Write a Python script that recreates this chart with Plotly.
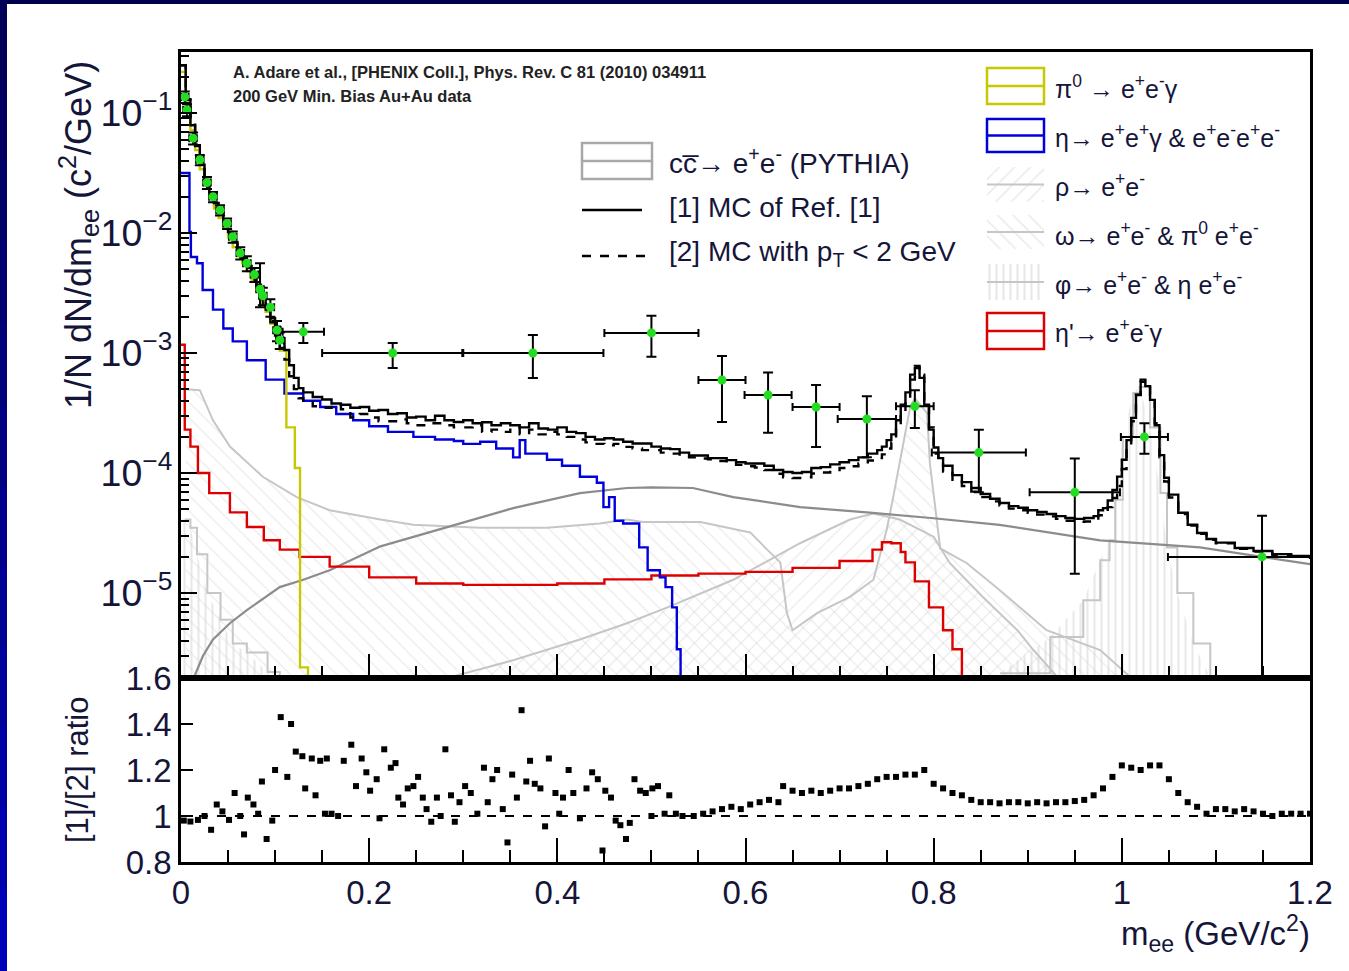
import plotly.graph_objects as go

# ---------------- data ----------------
M_TOT = [0.000, 0.005, 0.010, 0.015, 0.020, 0.025, 0.030, 0.035, 0.040, 0.045,
         0.050, 0.055, 0.060, 0.065, 0.070, 0.075, 0.080, 0.085, 0.090, 0.095,
         0.100, 0.105, 0.110, 0.115, 0.120, 0.125, 0.130, 0.140, 0.150, 0.160,
         0.170, 0.180, 0.190, 0.200, 0.210, 0.220, 0.230, 0.240, 0.250, 0.260,
         0.270, 0.280, 0.290, 0.300, 0.310, 0.320, 0.330, 0.340, 0.350, 0.360,
         0.370, 0.380, 0.390, 0.400, 0.410, 0.420, 0.430, 0.440, 0.450, 0.460,
         0.470, 0.480, 0.490, 0.500, 0.510, 0.520, 0.530, 0.540, 0.550, 0.560,
         0.570, 0.580, 0.590, 0.600, 0.610, 0.620, 0.630, 0.640, 0.650, 0.660,
         0.670, 0.680, 0.690, 0.700, 0.710, 0.720, 0.730, 0.740, 0.745, 0.750,
         0.755, 0.760, 0.765, 0.770, 0.775, 0.780, 0.785, 0.790, 0.795, 0.800,
         0.805, 0.810, 0.820, 0.830, 0.840, 0.850, 0.860, 0.870, 0.880, 0.890,
         0.900, 0.910, 0.920, 0.930, 0.940, 0.950, 0.960, 0.970, 0.975, 0.980,
         0.985, 0.990, 0.995, 1.000, 1.005, 1.010, 1.015, 1.020, 1.025, 1.030,
         1.035, 1.040, 1.045, 1.050, 1.060, 1.070, 1.080, 1.090, 1.100, 1.120,
         1.140, 1.160, 1.180, 1.200]

# [1] MC of Ref. [1]
TOT1 = [0.25, 0.128, 0.079, 0.054, 0.037, 0.0277, 0.0219, 0.0178, 0.0147, 0.0124,
        0.0102, 0.0084, 0.0071, 0.0062, 0.0053, 0.0045, 0.0037, 0.0030, 0.0025, 0.00195,
        0.00166, 0.00133, 0.00106, 0.00079, 0.00062, 0.00051, 0.00047, 0.00043, 0.00041, 0.00038,
        0.00037, 0.00035, 0.000355, 0.00033, 0.000335, 0.00031, 0.000315, 0.00029, 0.000295, 0.000275,
        0.0003, 0.000275, 0.000266, 0.000275, 0.00026, 0.000265, 0.00025, 0.00026, 0.00025, 0.00024,
        0.00026, 0.000235, 0.00023, 0.00024, 0.00022, 0.000215, 0.0002, 0.00019, 0.000195, 0.00019,
        0.000182, 0.000176, 0.000176, 0.000166, 0.00016, 0.000158, 0.000148, 0.00014, 0.00014, 0.000133,
        0.000133, 0.000128, 0.000123, 0.00012, 0.00012, 0.000115, 0.000106, 0.000102, 0.0001, 0.000102,
        0.00011, 0.000112, 0.000118, 0.000123, 0.000128, 0.000135, 0.000145, 0.000155, 0.000166, 0.000188,
        0.00021, 0.000275, 0.00037, 0.00047, 0.00066, 0.00075, 0.00062, 0.00037, 0.00023, 0.000163,
        0.000133, 0.000115, 0.000096, 0.000084, 0.000075, 0.0000668, 0.000061, 0.0000562, 0.000053, 0.0000513,
        0.000049, 0.0000473, 0.0000456, 0.0000437, 0.0000422, 0.0000415, 0.0000422, 0.0000437, 0.000049, 0.000051,
        0.000059, 0.0000724, 0.0000933, 0.000129, 0.000188, 0.000288, 0.000447, 0.000575, 0.00053, 0.000407,
        0.00025, 0.000141, 0.0000912, 0.000066, 0.0000467, 0.0000371, 0.0000316, 0.0000282, 0.0000263, 0.0000237,
        0.0000224, 0.0000211, 0.0000204, 0.0000195]

# [2] MC with pT < 2 GeV
TOT2 = [0.25, 0.13, 0.08, 0.053, 0.037, 0.028, 0.0215, 0.0176, 0.0146, 0.0122,
        0.0101, 0.0083, 0.0070, 0.0061, 0.0051, 0.0043, 0.0035, 0.0027, 0.0023, 0.0018,
        0.0014, 0.0011, 0.00088, 0.00064, 0.0005, 0.00042, 0.00039, 0.00036, 0.00035, 0.00037,
        0.00034, 0.00029, 0.00031, 0.00029, 0.00027, 0.00027, 0.00028, 0.00026, 0.00025, 0.00026,
        0.00026, 0.00025, 0.00024, 0.00024, 0.00025, 0.00022, 0.00023, 0.00022, 0.00024, 0.00021,
        0.00023, 0.00021, 0.00022, 0.00021, 0.0002, 0.00019, 0.00018, 0.000175, 0.00017, 0.000175,
        0.000165, 0.00016, 0.000155, 0.000155, 0.000148, 0.000145, 0.000138, 0.000135, 0.000132, 0.00013,
        0.000126, 0.000122, 0.000117, 0.000114, 0.000111, 0.000106, 0.0000985, 0.000092, 0.000091, 0.000092,
        0.000099, 0.000101, 0.000106, 0.00011, 0.000114, 0.00012, 0.000127, 0.000133, 0.000143, 0.00016,
        0.00018, 0.000235, 0.00032, 0.00042, 0.0006, 0.00078, 0.00066, 0.0004, 0.00024, 0.000145,
        0.000118, 0.000103, 0.000088, 0.000078, 0.00007, 0.000063, 0.000058, 0.0000535, 0.0000505, 0.000049,
        0.0000467, 0.000045, 0.0000435, 0.0000415, 0.00004, 0.0000392, 0.0000395, 0.0000405, 0.0000445, 0.000046,
        0.000052, 0.000062, 0.000078, 0.000108, 0.000165, 0.00027, 0.00045, 0.0006, 0.00058, 0.00045,
        0.00026, 0.000135, 0.000085, 0.0000625, 0.0000455, 0.0000365, 0.0000312, 0.0000278, 0.000026, 0.0000234,
        0.0000222, 0.0000207, 0.0000201, 0.0000192]

# pi0 -> e+e-gamma
M_PI0 = [0.000, 0.005, 0.010, 0.015, 0.020, 0.025, 0.030, 0.035, 0.040, 0.045,
         0.050, 0.055, 0.060, 0.065, 0.070, 0.075, 0.080, 0.085, 0.090, 0.095,
         0.100, 0.105, 0.112, 0.121, 0.1265, 0.135]
PI0 = [0.22, 0.115, 0.072, 0.049, 0.034, 0.025, 0.0198, 0.016, 0.0133, 0.0112,
       0.0092, 0.0076, 0.0064, 0.0056, 0.0048, 0.0040, 0.0033, 0.0026, 0.0022, 0.00175,
       0.00148, 0.00105, 0.00024, 0.00011, 0.0000024, 1e-9]

# eta -> e+e-gamma & e+e-e+e-
M_ETA = [0.000, 0.009, 0.0105, 0.017, 0.023, 0.034, 0.045, 0.055, 0.070, 0.090,
         0.110, 0.130, 0.148, 0.165, 0.183, 0.200, 0.220, 0.247, 0.270, 0.290,
         0.300, 0.318, 0.335, 0.353, 0.360, 0.366, 0.389, 0.405, 0.424, 0.442,
         0.449, 0.455, 0.461, 0.470, 0.480, 0.487, 0.496, 0.509, 0.515, 0.522,
         0.527, 0.531]
ETA = [0.0316, 0.0102, 0.0063, 0.0056, 0.00335, 0.0023, 0.0016, 0.00125, 0.00087, 0.0006,
       0.00046, 0.0004, 0.000355, 0.00031, 0.000275, 0.000245, 0.00022, 0.0002, 0.00019, 0.000185,
       0.000175, 0.000182, 0.00016, 0.000135, 0.000188, 0.000145, 0.000129, 0.000115, 0.000093, 0.000083,
       0.000052, 0.000063, 0.00004, 0.000038, 0.000038, 0.000024, 0.0000155, 0.0000135, 0.0000112, 0.0000076,
       0.0000034, 1e-9]

# eta' -> e+e-gamma
M_ETAP = [0.000, 0.004, 0.010, 0.018, 0.030, 0.052, 0.070, 0.088, 0.105, 0.126,
          0.158, 0.200, 0.250, 0.300, 0.350, 0.400, 0.450, 0.500, 0.550, 0.600,
          0.650, 0.700, 0.735, 0.745, 0.755, 0.765, 0.770, 0.780, 0.795, 0.810,
          0.820, 0.830, 0.835]
ETAP = [0.00117, 0.00023, 0.000166, 0.0001, 0.000068, 0.000047, 0.0000355, 0.0000275, 0.000023, 0.00002,
        0.0000166, 0.0000135, 0.000012, 0.0000117, 0.0000117, 0.000012, 0.000013, 0.000014, 0.0000145, 0.000015,
        0.0000162, 0.0000185, 0.000023, 0.0000265, 0.000026, 0.000022, 0.000018, 0.0000125, 0.0000076, 0.0000049,
        0.0000034, 0.0000019, 1e-9]

# c cbar -> e+e- (PYTHIA)
M_CC = [0.0128, 0.0234, 0.034, 0.052, 0.070, 0.105, 0.130, 0.158, 0.212, 0.283,
        0.353, 0.424, 0.474, 0.500, 0.544, 0.587, 0.658, 0.729, 0.800, 0.870,
        0.920, 0.977, 1.083, 1.200]
CC = [0.0000019, 0.000003, 0.0000041, 0.0000056, 0.0000072, 0.0000112, 0.0000129, 0.0000155, 0.0000245, 0.0000355,
      0.000051, 0.000068, 0.000075, 0.000076, 0.000075, 0.000063, 0.000052, 0.000047, 0.000042, 0.000037,
      0.000032, 0.0000275, 0.000024, 0.0000174]

# omega -> e+e- & pi0 e+e-
M_OMEGA = [0.005, 0.020, 0.034, 0.052, 0.087, 0.123, 0.158, 0.176, 0.212, 0.247,
           0.318, 0.389, 0.445, 0.474, 0.491, 0.552, 0.605, 0.623, 0.637, 0.644,
           0.650, 0.676, 0.711, 0.736, 0.750, 0.757, 0.764, 0.775, 0.780, 0.793,
           0.796, 0.804, 0.807, 0.835, 0.870, 0.920, 0.977, 1.012]
OMEGA = [0.0005, 0.00049, 0.000275, 0.000166, 0.000093, 0.000063, 0.000049, 0.000046, 0.000041, 0.000037,
         0.000035, 0.000035, 0.000038, 0.000041, 0.000039, 0.000039, 0.000032, 0.000023, 0.000018, 0.0000068,
         0.0000049, 0.0000068, 0.0000093, 0.0000129, 0.0000335, 0.000063, 0.00012, 0.000355, 0.00042, 0.000316,
         0.00012, 0.0000335, 0.0000235, 0.0000178, 0.0000106, 0.0000049, 0.00000335, 0.0000019]

# rho -> e+e-
M_RHO = [0.283, 0.353, 0.424, 0.474, 0.517, 0.587, 0.658, 0.711, 0.736, 0.764,
         0.800, 0.817, 0.852, 0.889, 0.906, 0.934]
RHO = [0.00000196, 0.00000275, 0.0000041, 0.0000056, 0.0000076, 0.0000129, 0.000026, 0.000041, 0.000046, 0.000041,
       0.0000295, 0.0000178, 0.0000093, 0.0000049, 0.00000335, 0.0000019]

# phi -> e+e- & eta e+e-  (low-mass Dalitz part and resonance peak)
M_PHI_LOW = [0.001, 0.005, 0.010, 0.017, 0.028, 0.042, 0.055, 0.070, 0.092, 0.105]
PHI_LOW = [0.00004, 0.000041, 0.000035, 0.000021, 0.00001, 0.000006, 0.0000038, 0.0000032, 0.0000022, 0.0000015]
M_PHI = [0.8705, 0.924, 0.959, 0.977, 0.987, 0.993, 1.001, 1.012, 1.019, 1.030,
         1.041, 1.048, 1.059, 1.076, 1.094]
PHI = [0.00000215, 0.0000043, 0.0000087, 0.0000188, 0.0000275, 0.00006, 0.0002, 0.000465, 0.00052, 0.00024,
       0.000068, 0.000024, 0.00001, 0.0000038, 0.000002]

# PHENIX data points
DATA_M = [0.004, 0.0064, 0.0128, 0.020, 0.0276, 0.034, 0.0415, 0.049, 0.055, 0.063,
          0.070, 0.078, 0.084, 0.087, 0.095, 0.102, 0.105, 0.130, 0.225, 0.374,
          0.500, 0.575, 0.624, 0.675, 0.729, 0.780, 0.848, 0.950, 1.024, 1.149]
DATA_Y = [0.136, 0.106, 0.0617, 0.0407, 0.0263, 0.020, 0.0155, 0.012, 0.0093, 0.0068,
          0.0056, 0.0045, 0.0034, 0.0030, 0.0024, 0.00155, 0.00128, 0.0015, 0.0010, 0.0010,
          0.00147, 0.000596, 0.000447, 0.000355, 0.000282, 0.00036, 0.000148, 0.000069, 0.0002, 0.00002]
DATA_XERR = [0.004, 0.004, 0.004, 0.004, 0.004, 0.004, 0.004, 0.004, 0.004, 0.004,
             0.004, 0.004, 0.004, 0.004, 0.004, 0.004, 0.004, 0.022, 0.075, 0.075,
             0.050, 0.025, 0.025, 0.025, 0.031, 0.020, 0.050, 0.048, 0.025, 0.100]
DATA_EYP = [0.015, 0.012, 0.007, 0.004, 0.003, 0.002, 0.0015, 0.0012, 0.001, 0.0008,
            0.0008, 0.0006, 0.0022, 0.0005, 0.0004, 0.0003, 0.0002, 0.00028, 0.00021, 0.00041,
            0.00057, 0.00035, 0.00024, 0.000185, 0.000155, 0.00013, 0.000081, 0.000063, 0.00006, 0.000024]
DATA_EYM = [0.015, 0.012, 0.007, 0.004, 0.003, 0.002, 0.0015, 0.0012, 0.001, 0.0008,
            0.0008, 0.0006, 0.001, 0.0005, 0.0004, 0.0003, 0.0002, 0.00029, 0.00025, 0.00038,
            0.00054, 0.00033, 0.00023, 0.00019, 0.000147, 0.000123, 0.000079, 0.0000545, 0.000055, 0.0000199]

# ratio [1]/[2]
RATIO_M = [0.003, 0.010, 0.018, 0.025, 0.032, 0.038, 0.044, 0.051, 0.057, 0.063,
           0.067, 0.071, 0.077, 0.082, 0.086, 0.091, 0.097, 0.100, 0.106, 0.113,
           0.117, 0.122, 0.129, 0.132, 0.139, 0.143, 0.148, 0.153, 0.155, 0.160,
           0.167, 0.173, 0.181, 0.186, 0.192, 0.197, 0.201, 0.208, 0.211, 0.216,
           0.223, 0.228, 0.231, 0.236, 0.241, 0.247, 0.252, 0.257, 0.261, 0.266,
           0.272, 0.276, 0.281, 0.287, 0.291, 0.296, 0.302, 0.308, 0.315, 0.322,
           0.326, 0.331, 0.336, 0.342, 0.347, 0.352, 0.357, 0.362, 0.367, 0.371,
           0.376, 0.382, 0.387, 0.391, 0.398, 0.402, 0.406, 0.412, 0.417, 0.424,
           0.431, 0.437, 0.443, 0.448, 0.451, 0.457, 0.462, 0.467, 0.473, 0.477,
           0.482, 0.488, 0.494, 0.500, 0.501, 0.507, 0.514, 0.519, 0.526, 0.533,
           0.545, 0.555, 0.565, 0.575, 0.585, 0.595, 0.605, 0.615, 0.625, 0.635,
           0.640, 0.650, 0.660, 0.670, 0.680, 0.690, 0.700, 0.710, 0.720, 0.730,
           0.740, 0.750, 0.760, 0.770, 0.780, 0.790, 0.800, 0.810, 0.820, 0.830,
           0.840, 0.850, 0.860, 0.870, 0.880, 0.890, 0.900, 0.910, 0.920, 0.930,
           0.940, 0.950, 0.960, 0.970, 0.980, 0.990, 1.000, 1.010, 1.020, 1.030,
           1.040, 1.050, 1.060, 1.070, 1.080, 1.090, 1.100, 1.110, 1.120, 1.130,
           1.140, 1.150, 1.160, 1.170, 1.180, 1.190, 1.200]
RATIO = [0.98, 0.976, 0.983, 1.00, 0.94, 1.05, 1.02, 0.983, 1.10, 1.00,
         0.92, 1.08, 1.05, 1.01, 1.15, 0.90, 0.98, 1.20, 1.43, 1.17,
         1.40, 1.28, 1.26, 1.12, 1.25, 1.09, 1.24, 1.01, 1.25, 1.01,
         1.00, 1.24, 1.31, 1.13, 1.25, 1.19, 1.11, 1.16, 0.99, 1.29,
         1.21, 1.23, 1.08, 1.05, 1.12, 1.13, 1.17, 1.08, 1.03, 0.975,
         1.08, 1.00, 1.29, 1.09, 0.975, 1.06, 1.13, 1.10, 1.01, 1.21,
         1.06, 1.16, 1.20, 1.03, 0.885, 1.18, 1.08, 1.46, 1.15, 1.24,
         1.14, 1.12, 0.955, 1.25, 1.10, 1.01, 1.08, 1.20, 1.10, 0.99,
         1.12, 1.19, 1.16, 0.85, 1.11, 1.08, 0.98, 0.96, 0.90, 0.97,
         1.16, 1.11, 1.10, 1.00, 1.12, 1.13, 1.01, 1.09, 1.01, 1.00,
         1.00, 1.01, 1.02, 1.03, 1.04, 1.03, 1.05, 1.06, 1.07, 1.06,
         1.13, 1.11, 1.10, 1.11, 1.10, 1.11, 1.12, 1.12, 1.13, 1.14,
         1.16, 1.17, 1.17, 1.18, 1.18, 1.20, 1.14, 1.12, 1.10, 1.09,
         1.07, 1.06, 1.06, 1.055, 1.06, 1.06, 1.055, 1.06, 1.055, 1.06,
         1.06, 1.065, 1.07, 1.09, 1.12, 1.17, 1.22, 1.21, 1.20, 1.22,
         1.22, 1.16, 1.10, 1.06, 1.04, 1.01, 1.03, 1.03, 1.02, 1.03,
         1.02, 1.01, 1.00, 1.01, 1.01, 1.01, 1.01]

X_TICKS = [0, 0.2, 0.4, 0.6, 0.8, 1.0, 1.2]
X_TICKTEXT = ["0", "0.2", "0.4", "0.6", "0.8", "1", "1.2"]
R_TICKS = [0.8, 1.0, 1.2, 1.4, 1.6]
R_TICKTEXT = ["0.8", "1", "1.2", "1.4", "1.6"]

# ---------------- figure ----------------
W, H = 1349, 971
L, R, T, B = 181, 39, 52, 109
PW, PH = W - L - R, H - T - B
SPLIT = 678  # pixel y of boundary between panels
TOP_DOM = [(H - B - SPLIT) / PH, 1.0]
BOT_DOM = [0.0, (H - B - SPLIT) / PH]


def xp(px):
    return (px - L) / PW


def yp(py):
    return (H - B - py) / PH


FONT = "Liberation Sans, Arial, Helvetica, sans-serif"
TXT = "#15153a"
LGRAY = "#c6c6c6"
FLOOR = 1e-9

fig = go.Figure()


def hatch(m, v, shape, size, sol, color="#cfcfcf"):
    xs = list(m) + list(m)[::-1]
    ys = list(v) + [FLOOR] * len(m)
    fig.add_trace(go.Scatter(
        x=xs, y=ys, mode="lines", fill="toself", fillcolor="rgba(0,0,0,0)",
        line=dict(width=0), hoverinfo="skip", showlegend=False,
        fillpattern=dict(shape=shape, fgcolor=color, bgcolor="rgba(0,0,0,0)",
                         size=size, solidity=sol),
        xaxis="x", yaxis="y"))


def curve(m, v, color, width=2.2, dash="solid", shape="linear"):
    fig.add_trace(go.Scatter(
        x=m, y=v, mode="lines", line=dict(color=color, width=width, dash=dash, shape=shape),
        hoverinfo="skip", showlegend=False, xaxis="x", yaxis="y"))


# hatched contributions
hatch(M_OMEGA, OMEGA, "\\", 11, 0.1)
hatch(M_RHO, RHO, "/", 11, 0.1)
hatch(M_PHI_LOW, PHI_LOW, "|", 7, 0.3, "#d2d2d2")
hatch(M_PHI, PHI, "|", 7, 0.3, "#d2d2d2")

curve(M_OMEGA, OMEGA, LGRAY, 2)
curve(M_RHO, RHO, LGRAY, 2)
curve(M_PHI_LOW, PHI_LOW, LGRAY, 2, shape="hv")
curve(M_PHI, PHI, LGRAY, 2, shape="hv")
curve(M_CC, CC, "#8c8c8c", 2.2)
curve(M_ETAP, ETAP, "#dd0000", 2.4, shape="hv")
curve(M_ETA, ETA, "#0000dd", 2.4, shape="hv")
curve(M_PI0, PI0, "#c8c800", 2.4, shape="hv")
curve(M_TOT, TOT2, "#000000", 2.4, dash="dash", shape="hv")
curve(M_TOT, TOT1, "#000000", 2.4, shape="hv")

# data points
fig.add_trace(go.Scatter(
    x=DATA_M, y=DATA_Y, mode="markers",
    marker=dict(color="#22dd22", size=9, symbol="circle"),
    error_x=dict(type="data", array=DATA_XERR, color="black", thickness=2, width=4),
    error_y=dict(type="data", array=DATA_EYP, arrayminus=DATA_EYM, symmetric=False,
                 color="black", thickness=2, width=5),
    hoverinfo="skip", showlegend=False, xaxis="x", yaxis="y"))

# ratio panel
fig.add_trace(go.Scatter(
    x=RATIO_M, y=RATIO, mode="markers",
    marker=dict(color="black", size=6, symbol="square"),
    hoverinfo="skip", showlegend=False, xaxis="x2", yaxis="y2"))

# legend hatched swatches (pixel overlay axes)
def swatch(x0, y0, x1, y1, shape, size, sol):
    fig.add_trace(go.Scatter(
        x=[x0, x1, x1, x0, x0], y=[y0, y0, y1, y1, y0], mode="lines",
        fill="toself", fillcolor="rgba(0,0,0,0)", line=dict(width=0),
        fillpattern=dict(shape=shape, fgcolor="#cfcfcf", bgcolor="rgba(0,0,0,0)",
                         size=size, solidity=sol),
        hoverinfo="skip", showlegend=False, xaxis="x3", yaxis="y3"))
    fig.add_trace(go.Scatter(
        x=[x0, x1], y=[(y0 + y1) / 2] * 2, mode="lines",
        line=dict(color=LGRAY, width=2), hoverinfo="skip", showlegend=False,
        xaxis="x3", yaxis="y3"))


swatch(987, 167, 1044, 202, "/", 11, 0.12)
swatch(987, 215, 1044, 249, "\\", 11, 0.12)
swatch(987, 264, 1044, 300, "|", 7, 0.3)

shapes = []
annotations = []

# navy frame of the slide
shapes.append(dict(type="rect", xref="paper", yref="paper", x0=xp(0), x1=xp(W), y0=yp(0), y1=yp(4),
                   fillcolor="#00004e", line=dict(width=0), layer="above"))
for i in range(12):
    y0 = i * H / 12
    y1 = (i + 1) * H / 12
    b = int(0x58 + (0xb8 - 0x58) * i / 11)
    shapes.append(dict(type="rect", xref="paper", yref="paper", x0=xp(0), x1=xp(7),
                       y0=yp(y0), y1=yp(y1 + 1), fillcolor="#0000%02x" % b,
                       line=dict(width=0), layer="above"))

# ratio = 1 line
shapes.append(dict(type="line", xref="x2", yref="y2", x0=0, x1=1.2, y0=1, y1=1,
                   line=dict(color="black", width=1.8, dash="dash")))


def box(x0, y0, x1, y1, color, w=2.5):
    shapes.append(dict(type="rect", xref="x3", yref="y3", x0=x0, x1=x1, y0=y0, y1=y1,
                       line=dict(color=color, width=w)))
    shapes.append(dict(type="line", xref="x3", yref="y3", x0=x0, x1=x1,
                       y0=(y0 + y1) / 2, y1=(y0 + y1) / 2, line=dict(color=color, width=w)))


box(987, 68, 1044, 104, "#c8c800")
box(987, 119, 1044, 152, "#0000dd")
box(987, 313, 1044, 349, "#dd0000")
box(582, 143, 652, 179, "#a8a8a8", 2.5)
shapes.append(dict(type="line", xref="x3", yref="y3", x0=582, x1=642, y0=210, y1=210,
                   line=dict(color="black", width=2.4)))
shapes.append(dict(type="line", xref="x3", yref="y3", x0=582, x1=652, y0=256, y1=256,
                   line=dict(color="black", width=2.4, dash="dash")))


def text(px, py, s, size, anchor="left", angle=0, bold=False, color=TXT):
    annotations.append(dict(
        xref="paper", yref="paper", x=xp(px), y=yp(py), text=("<b>%s</b>" % s) if bold else s,
        showarrow=False, xanchor=anchor, yanchor="middle", textangle=angle,
        font=dict(family=FONT, size=size, color=color)))


LEG = 25
text(1053, 87, "π<sup>0</sup> → e<sup>+</sup>e<sup>-</sup>γ", LEG)
text(1053, 136, "η→ e<sup>+</sup>e<sup>+</sup>γ &amp; e<sup>+</sup>e<sup>-</sup>e<sup>+</sup>e<sup>-</sup>", LEG)
text(1053, 185, "ρ→ e<sup>+</sup>e<sup>-</sup>", LEG)
text(1053, 234, "ω→ e<sup>+</sup>e<sup>-</sup> &amp; π<sup>0</sup> e<sup>+</sup>e<sup>-</sup>", LEG)
text(1053, 283, "φ→ e<sup>+</sup>e<sup>-</sup> &amp; η e<sup>+</sup>e<sup>-</sup>", LEG)
text(1053, 331, "η'→ e<sup>+</sup>e<sup>-</sup>γ", LEG)

MID = 28
text(667, 161, "cc\u0305→ e<sup>+</sup>e<sup>-</sup> (PYTHIA)", MID)
text(667, 208, "[1] MC of Ref. [1]", MID)
text(667, 254, "[2] MC with p<sub>T</sub> &lt; 2 GeV", MID)

text(231, 72, "A. Adare et al., [PHENIX Coll.], Phys. Rev. C 81 (2010) 034911", 16.5, bold=True, color="#222222")
text(231, 96, "200 GeV Min. Bias Au+Au data", 16.5, bold=True, color="#222222")

text(78, 235, "1/N dN/dm<sub>ee</sub> (c<sup>2</sup>/GeV)", 36, anchor="center", angle=-90)
text(77, 770, "[1]/[2] ratio", 31, anchor="center", angle=-90)
annotations.append(dict(xref="paper", yref="paper", x=xp(1312), y=yp(933), xanchor="right",
                        yanchor="middle", showarrow=False,
                        text="m<sub>ee</sub> (GeV/c<sup>2</sup>)",
                        font=dict(family=FONT, size=33, color=TXT)))

axis_common = dict(showgrid=False, zeroline=False, showline=True, linecolor="black",
                   linewidth=2.5, mirror=True, ticks="inside", tickcolor="black")

fig.update_layout(
    width=W, height=H, margin=dict(l=L, r=R, t=T, b=B, pad=0),
    paper_bgcolor="white", plot_bgcolor="white", showlegend=False,
    font=dict(family=FONT, color=TXT),
    xaxis=dict(domain=[0, 1], anchor="y", range=[0, 1.2], tickvals=X_TICKS,
               showticklabels=False, ticklen=24, tickwidth=2,
               minor=dict(dtick=0.05, ticks="inside", ticklen=12, tickwidth=2, tickcolor="black"),
               **axis_common),
    yaxis=dict(domain=TOP_DOM, anchor="x", type="log", range=[-5.708, -0.492], dtick=1,
               exponentformat="power", ticklen=16, tickwidth=2,
               tickfont=dict(size=30, family=FONT, color=TXT),
               minor=dict(dtick="D1", ticks="inside", ticklen=8, tickwidth=1.5, tickcolor="black"),
               **axis_common),
    xaxis2=dict(domain=[0, 1], anchor="y2", range=[0, 1.2], tickvals=X_TICKS, ticktext=X_TICKTEXT,
                ticklen=24, tickwidth=2, tickfont=dict(size=33, family=FONT, color=TXT),
                minor=dict(dtick=0.05, ticks="inside", ticklen=12, tickwidth=2, tickcolor="black"),
                **axis_common),
    yaxis2=dict(domain=BOT_DOM, anchor="x2", range=[0.8, 1.6], tickvals=R_TICKS, ticktext=R_TICKTEXT,
                ticklen=12, tickwidth=2, tickfont=dict(size=33, family=FONT, color=TXT),
                **axis_common),
    xaxis3=dict(domain=[0, 1], anchor="y3", overlaying="x", range=[L, W - R], visible=False),
    yaxis3=dict(domain=TOP_DOM, anchor="x3", overlaying="y", range=[SPLIT, T], visible=False),
    shapes=shapes, annotations=annotations,
)

fig.write_html("out.html")
